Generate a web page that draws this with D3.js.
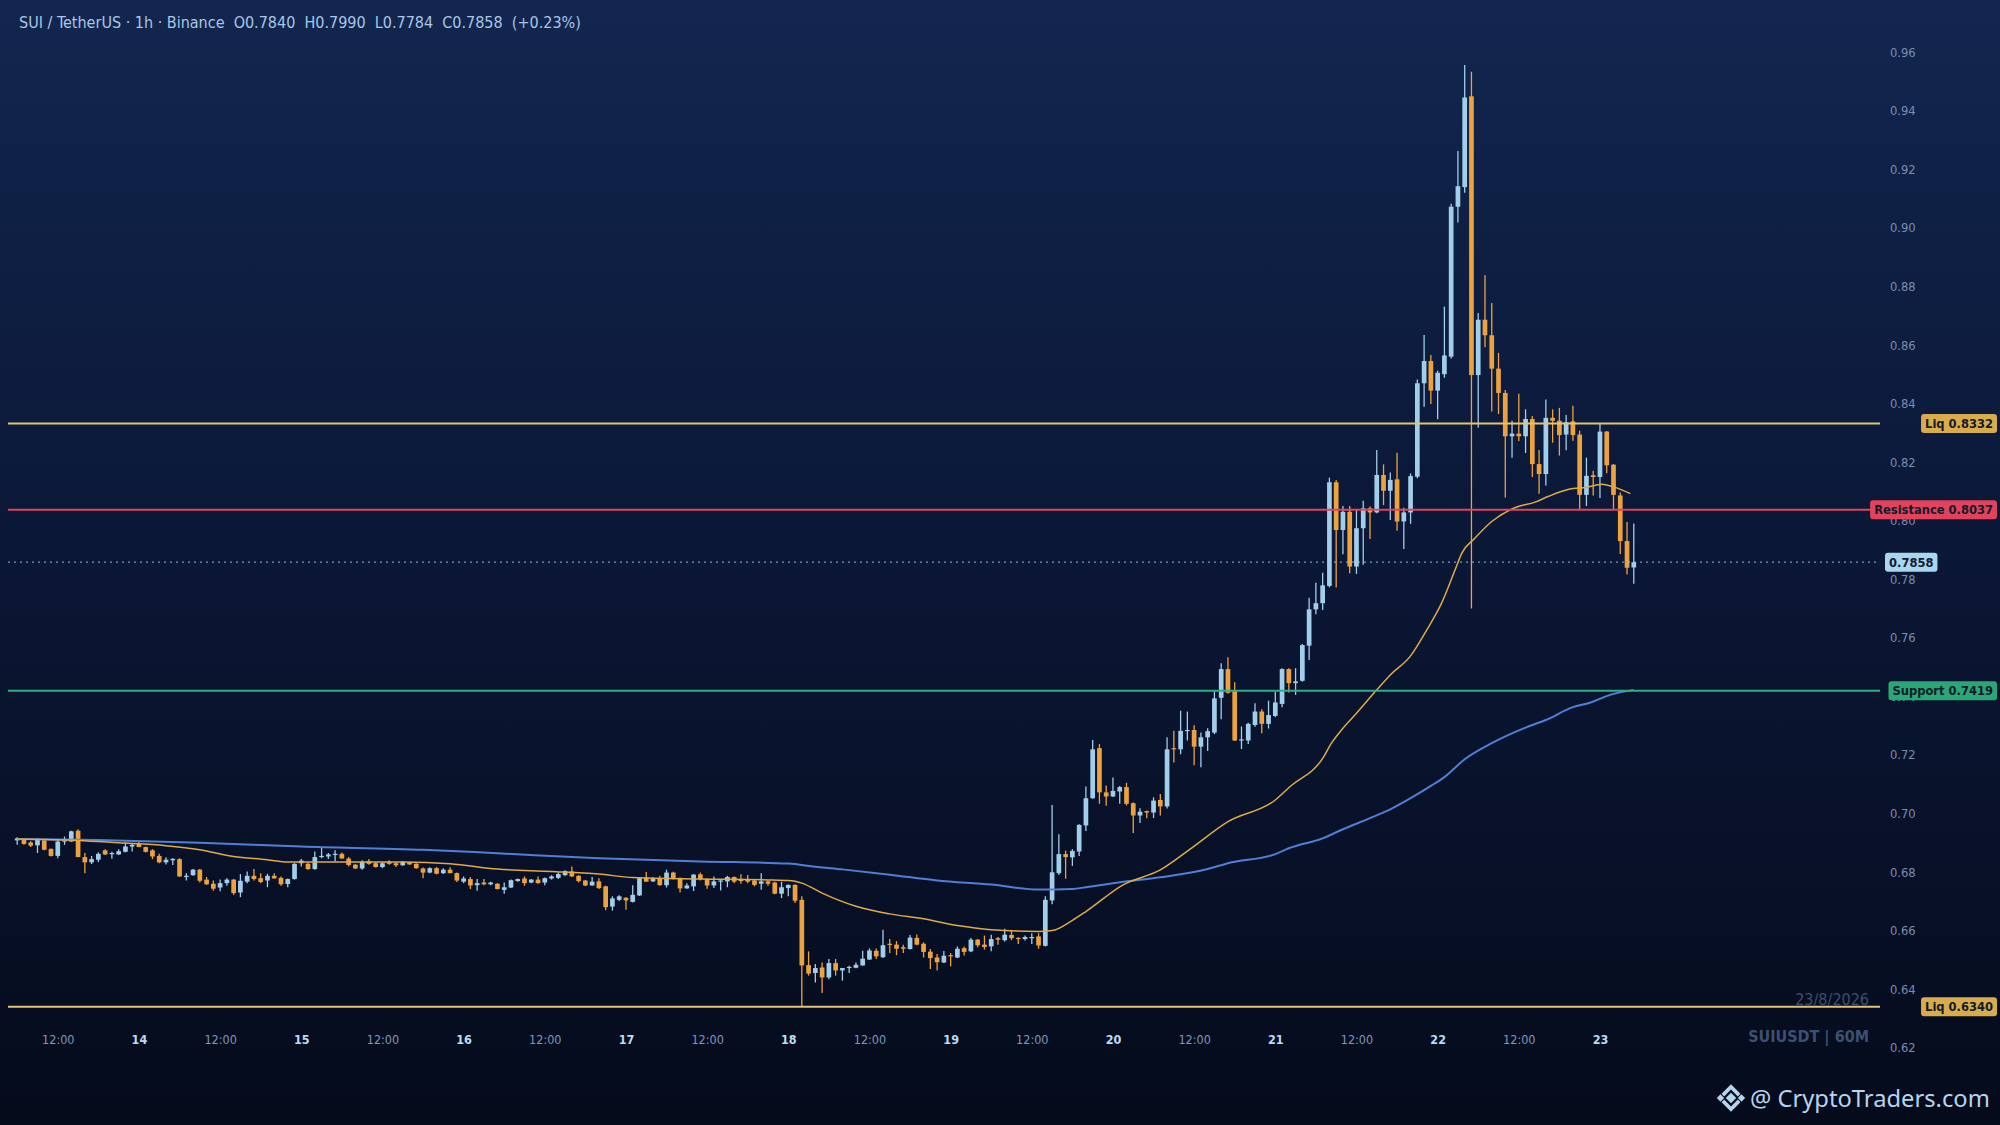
<!DOCTYPE html>
<html><head><meta charset="utf-8">
<script src="https://cdn.jsdelivr.net/npm/d3@7"></script>
<style>html,body{margin:0;padding:0;background:#0a1530;overflow:hidden}
text{font-family:"DejaVu Sans Condensed","DejaVu Sans",sans-serif;font-stretch:condensed}</style>
</head><body><svg id="c" width="2000" height="1125"></svg>
<script>
// ---------------- DATA ----------------
const symbolTitle = "SUI / TetherUS · 1h · Binance";
const startUTC = Date.UTC(2026, 7, 13, 6); // first candle: 13 Aug 2026 06:00
const opens = [
.6908,.6912,.6901,.6891,.6908,.6879,.6855,.6904,.6904,.6941,
.6851,.6833,.6842,.6874,.6862,.6860,.6869,.6887,.6896,.6885,
.6874,.6855,.6833,.6840,.6844,.6783,.6789,.6808,.6774,.6760,
.6747,.6762,.6774,.6730,.6767,.6787,.6779,.6771,.6787,.6780,
.6759,.6776,.6830,.6828,.6810,.6851,.6853,.6858,.6862,.6846,
.6825,.6812,.6837,.6830,.6817,.6835,.6830,.6823,.6833,.6828,
.6812,.6798,.6813,.6796,.6808,.6796,.6767,.6776,.6755,.6764,
.6758,.6760,.6739,.6747,.6769,.6778,.6764,.6774,.6764,.6778,
.6780,.6789,.6802,.6787,.6771,.6754,.6768,.6751,.6682,.6705,
.6712,.6698,.6720,.6780,.6768,.6778,.6755,.6798,.6779,.6744,
.6751,.6792,.6776,.6754,.6767,.6768,.6783,.6776,.6776,.6771,
.6760,.6768,.6764,.6726,.6745,.6756,.6705,.6482,.6455,.6474,
.6440,.6489,.6464,.6472,.6473,.6481,.6501,.6531,.6509,.6555,
.6552,.6543,.6537,.6575,.6555,.6528,.6508,.6491,.6516,.6508,
.6540,.6529,.6569,.6552,.6546,.6574,.6567,.6585,.6575,.6571,
.6576,.6580,.6548,.6703,.6796,.6861,.6850,.6870,.6959,.7052,
.7223,.7072,.7058,.7075,.7090,.7035,.6993,.7008,.7003,.7046,
.7024,.7223,.7219,.7282,.7285,.7228,.7260,.7276,.7395,.7493,
.7418,.7249,.7249,.7302,.7348,.7306,.7333,.7374,.7493,.7445,
.7453,.7573,.7697,.7718,.7777,.8131,.7968,.8030,.7843,.7974,
.8042,.8028,.8156,.8102,.8141,.7997,.8028,.8150,.8469,.8545,
.8444,.8500,.8560,.9072,.9139,.9449,.8497,.8686,.8633,.8519,
.8436,.8288,.8297,.8288,.8347,.8193,.8159,.8351,.8341,.8294,
.8339,.8294,.8088,.8155,.8149,.8304,.8191,.8086,.7930,.7840];
const highs = [
.6919,.6915,.6905,.6916,.6910,.6880,.6910,.6921,.6941,.6946,
.6865,.6855,.6867,.6878,.6869,.6878,.6901,.6899,.6905,.6887,
.6878,.6862,.6850,.6847,.6847,.6796,.6810,.6810,.6783,.6771,
.6774,.6779,.6776,.6793,.6802,.6810,.6796,.6794,.6796,.6785,
.6778,.6830,.6844,.6833,.6870,.6885,.6865,.6874,.6867,.6851,
.6827,.6840,.6844,.6833,.6833,.6840,.6833,.6838,.6835,.6830,
.6815,.6816,.6817,.6813,.6816,.6798,.6785,.6783,.6776,.6776,
.6767,.6762,.6764,.6774,.6778,.6785,.6776,.6785,.6781,.6789,
.6799,.6806,.6819,.6789,.6773,.6783,.6779,.6753,.6717,.6721,
.6714,.6755,.6781,.6800,.6783,.6787,.6808,.6801,.6781,.6762,
.6793,.6798,.6778,.6785,.6772,.6787,.6785,.6792,.6790,.6774,
.6796,.6771,.6767,.6767,.6757,.6758,.6717,.6529,.6486,.6491,
.6503,.6503,.6472,.6480,.6491,.6531,.6539,.6539,.6603,.6571,
.6564,.6552,.6585,.6587,.6560,.6537,.6520,.6530,.6523,.6546,
.6546,.6575,.6571,.6583,.6586,.6578,.6606,.6600,.6577,.6583,
.6591,.6591,.6717,.7029,.6929,.6873,.6878,.6963,.7092,.7251,
.7237,.7095,.7123,.7094,.7105,.7037,.7018,.7010,.7055,.7066,
.7260,.7282,.7351,.7348,.7301,.7276,.7291,.7419,.7513,.7533,
.7448,.7297,.7310,.7376,.7356,.7385,.7416,.7496,.7496,.7496,
.7579,.7737,.7788,.7822,.8147,.8139,.8050,.8050,.8040,.8068,
.8048,.8241,.8192,.8164,.8232,.8044,.8161,.8482,.8634,.8566,
.8512,.8731,.9082,.9262,.9556,.9533,.8709,.8838,.8743,.8573,
.8446,.8341,.8433,.8380,.8357,.8241,.8414,.8380,.8385,.8361,
.8392,.8307,.8215,.8170,.8330,.8306,.8193,.8096,.7995,.7990];
const lows = [
.6893,.6893,.6885,.6865,.6874,.6853,.6847,.6893,.6903,.6851,
.6796,.6827,.6834,.6858,.6845,.6858,.6867,.6870,.6885,.6867,
.6844,.6830,.6826,.6824,.6783,.6771,.6787,.6764,.6756,.6736,
.6734,.6753,.6722,.6714,.6762,.6771,.6762,.6748,.6778,.6753,
.6748,.6774,.6819,.6808,.6808,.6847,.6844,.6836,.6846,.6819,
.6810,.6808,.6825,.6815,.6813,.6825,.6817,.6821,.6824,.6811,
.6779,.6796,.6792,.6793,.6796,.6766,.6762,.6742,.6736,.6755,
.6755,.6740,.6726,.6745,.6767,.6753,.6762,.6760,.6755,.6774,
.6776,.6787,.6783,.6764,.6752,.6753,.6742,.6669,.6668,.6701,
.6671,.6696,.6718,.6767,.6766,.6753,.6747,.6774,.6730,.6743,
.6735,.6771,.6743,.6745,.6737,.6748,.6762,.6760,.6762,.6751,
.6739,.6753,.6724,.6711,.6717,.6694,.6340,.6446,.6423,.6387,
.6434,.6446,.6429,.6455,.6471,.6480,.6500,.6503,.6506,.6523,
.6516,.6523,.6535,.6550,.6508,.6469,.6464,.6489,.6478,.6506,
.6515,.6527,.6543,.6535,.6529,.6552,.6563,.6567,.6554,.6566,
.6554,.6538,.6546,.6690,.6790,.6777,.6821,.6855,.6940,.7050,
.7033,.7026,.7056,.7033,.7027,.6933,.6967,.6984,.6984,.6993,
.7017,.7174,.7202,.7249,.7165,.7158,.7213,.7271,.7322,.7410,
.7247,.7220,.7237,.7296,.7274,.7290,.7329,.7363,.7413,.7405,
.7450,.7524,.7680,.7695,.7772,.7772,.7885,.7820,.7818,.7849,
.7937,.8025,.8053,.8002,.7965,.7903,.7989,.8145,.8389,.8398,
.8346,.8488,.8554,.9018,.9120,.7700,.8317,.8592,.8373,.8364,
.8079,.8215,.8272,.8231,.8149,.8092,.8120,.8266,.8222,.8240,
.8273,.8038,.8050,.8086,.8077,.8162,.8038,.7886,.7816,.7784];
const closes = [
.6915,.6896,.6890,.6910,.6876,.6855,.6904,.6912,.6939,.6851,
.6833,.6844,.6862,.6860,.6865,.6871,.6887,.6893,.6885,.6869,
.6853,.6833,.6842,.6845,.6785,.6787,.6808,.6770,.6758,.6743,
.6762,.6774,.6728,.6770,.6787,.6776,.6766,.6787,.6778,.6758,
.6776,.6828,.6839,.6810,.6851,.6855,.6860,.6862,.6846,.6824,
.6812,.6835,.6828,.6817,.6830,.6828,.6823,.6835,.6826,.6813,
.6798,.6813,.6794,.6808,.6796,.6771,.6778,.6754,.6762,.6758,
.6764,.6742,.6748,.6772,.6776,.6762,.6774,.6762,.6779,.6785,
.6793,.6803,.6785,.6769,.6754,.6767,.6745,.6680,.6710,.6717,
.6703,.6722,.6779,.6767,.6778,.6755,.6798,.6776,.6744,.6754,
.6791,.6776,.6754,.6768,.6771,.6783,.6767,.6769,.6767,.6756,
.6768,.6760,.6726,.6748,.6756,.6702,.6481,.6453,.6472,.6440,
.6489,.6464,.6472,.6476,.6483,.6504,.6532,.6512,.6550,.6553,
.6538,.6538,.6576,.6552,.6527,.6506,.6492,.6514,.6512,.6538,
.6527,.6569,.6550,.6544,.6571,.6569,.6586,.6574,.6571,.6578,
.6578,.6549,.6705,.6799,.6861,.6851,.6872,.6961,.7052,.7219,
.7072,.7058,.7077,.7090,.7033,.6993,.7006,.7003,.7044,.7024,
.7219,.7219,.7282,.7285,.7228,.7260,.7281,.7393,.7493,.7412,
.7249,.7253,.7306,.7348,.7306,.7336,.7379,.7493,.7445,.7451,
.7575,.7697,.7718,.7779,.8131,.7968,.8030,.7843,.7974,.8042,
.8028,.8156,.8102,.8139,.7997,.8028,.8152,.8469,.8545,.8444,
.8505,.8564,.9072,.9142,.9445,.8497,.8686,.8633,.8519,.8436,
.8288,.8297,.8288,.8347,.8193,.8159,.8351,.8341,.8292,.8336,
.8292,.8088,.8153,.8149,.8304,.8189,.8088,.7930,.7839,.7858];

// moving averages: [hour offset from first candle, value]
const maFast = [[0,.6913],[9,.6908],[15,.6900],[22,.6890],[27,.6876],[32,.6853],[37,.6842],[40,.6834],[47,.6834],[57,.6834],
 [64,.6828],[71,.6810],[79,.6802],[86,.6793],[91,.6781],[101,.6776],[111,.6773],[114.5,.6770],[116,.6762],[119,.6728],
 [124,.6683],[129,.6657],[134,.6640],[139,.6617],[144,.6603],[151,.6597],[153,.6600],[156,.6635],[158,.6665],[163.5,.6756],
 [169,.6807],[173.4,.6878],[179,.6972],[186,.7046],[188.2,.7092],[193,.7188],[194.3,.7240],[196,.7291],[198,.7342],[201,.7422],
 [203,.7473],[206,.7538],[208.4,.7627],[210.6,.7719],[212.6,.7833],[213.6,.7890],[215.5,.7940],[218,.7997],[221.5,.8045],[224.4,.8063],
 [226.4,.8083],[229.4,.8107],[232,.8114],[234.3,.8124],[235.8,.8117],[238.5,.8092]];
const maSlow = [[0,.6913],[12,.6909],[27,.6900],[42,.6887],[60,.6876],[71,.6864],[86,.6847],[101,.6836],[114,.6829],[118,.6818],
 [122,.6809],[129,.6791],[136,.6771],[144,.6757],[151,.6740],[156,.6742],[158,.6748],[163,.6765],[169,.6782],[176,.6810],
 [179,.6830],[186,.6861],[188,.6881],[193,.6915],[196,.6946],[200,.6984],[203,.7014],[206,.7052],[209,.7094],[211,.7124],
 [214,.7185],[218,.7240],[223,.7293],[226,.7319],[230,.7363],[232.5,.7378],[235.5,.7405],[239,.7422]];

const priceTicks = [0.62,0.64,0.66,0.68,0.70,0.72,0.74,0.76,0.78,0.80,0.82,0.84,0.86,0.88,0.90,0.92,0.94,0.96];
const levelNames = ["Liq","Resistance","Support","Liq"];
const levelValues = [0.8332, 0.8037, 0.7419, 0.6340];
const lastPrice = 0.7858;
const changeText = "(+0.23%)";
const dateStamp = "23/8/2026";
const tickerStamp = "SUIUSDT | 60M";
const brandText = "@ CryptoTraders.com";

// ---------------- DRAW ----------------
const HOUR = 3600e3;
const times = opens.map((_, i) => new Date(startUTC + i * HOUR));
const svg = d3.select("#c");
const W = 2000, H = 1125;
const x = d3.scaleUtc().domain([new Date(startUTC - 1.36 * HOUR), new Date(startUTC + 275.4 * HOUR)]).range([8, 1880]);
const y = d3.scaleLinear().domain([0.62, 0.96]).range([1047.7, 52.1]);

const defs = svg.append("defs");
const bg = defs.append("linearGradient").attr("id", "bg").attr("x1", 0).attr("y1", 0).attr("x2", 0).attr("y2", 1);
bg.append("stop").attr("offset", "0%").attr("stop-color", "#12264f");
bg.append("stop").attr("offset", "45%").attr("stop-color", "#0b1838");
bg.append("stop").attr("offset", "100%").attr("stop-color", "#050b1b");
svg.append("rect").attr("width", W).attr("height", H).attr("fill", "url(#bg)");

// header
const n = opens.length - 1;
svg.append("text").attr("x", 19).attr("y", 28).attr("fill", "#a9c6e6").attr("font-size", 16)
  .attr("xml:space", "preserve").style("white-space", "pre")
  .text(`${symbolTitle}  O${opens[n].toFixed(4)}  H${highs[n].toFixed(4)}  L${lows[n].toFixed(4)}  C${closes[n].toFixed(4)}  ${changeText}`);

// price axis
const yAxis = d3.axisRight(y).tickValues(priceTicks).tickFormat(d3.format(".2f")).tickSize(0).tickPadding(0);
const gy = svg.append("g").attr("transform", "translate(1890,0)").call(yAxis);
gy.select(".domain").remove();
gy.selectAll("text").attr("fill", "#7a8db0").attr("font-size", 12.8).style("font-family", null);

// time axis
const tickTimes = d3.utcHour.every(12).range(new Date(Date.UTC(2026, 7, 13, 12)), new Date(times[n].getTime() + 1));
const xAxis = d3.axisBottom(x).tickValues(tickTimes).tickSize(0).tickPadding(0)
  .tickFormat(d => d.getUTCHours() === 0 ? d3.utcFormat("%-d")(d) : d3.utcFormat("%H:%M")(d));
const gx = svg.append("g").attr("transform", "translate(0,1040)").call(xAxis);
gx.select(".domain").remove();
gx.selectAll("text").attr("dy", "0.35em").attr("font-size", 12.5).style("font-family", null)
  .attr("fill", d => d.getUTCHours() === 0 ? "#b9dcf5" : "#7f97bb")
  .attr("font-weight", d => d.getUTCHours() === 0 ? "bold" : "normal");

// candles
const upCol = "#a0ceeb", dnCol = "#eea23e";
const bw = 4.7;
const cg = svg.append("g");
const idx = d3.range(opens.length);
cg.selectAll("line.wick").data(idx).join("line")
  .attr("x1", i => x(times[i])).attr("x2", i => x(times[i]))
  .attr("y1", i => y(highs[i])).attr("y2", i => y(lows[i]))
  .attr("stroke", i => closes[i] >= opens[i] ? upCol : dnCol).attr("stroke-width", 1.3);
cg.selectAll("rect.body").data(idx).join("rect")
  .attr("x", i => x(times[i]) - bw / 2).attr("width", bw)
  .attr("y", i => y(Math.max(opens[i], closes[i])))
  .attr("height", i => Math.max(1.2, Math.abs(y(opens[i]) - y(closes[i]))))
  .attr("fill", i => closes[i] >= opens[i] ? upCol : dnCol);

// moving averages
const maLine = d3.line().x(d => x(new Date(startUTC + d[0] * HOUR))).y(d => y(d[1])).curve(d3.curveMonotoneX);
svg.append("path").attr("d", maLine(maSlow)).attr("fill", "none").attr("stroke", "#4f7fd6").attr("stroke-width", 2);
svg.append("path").attr("d", maLine(maFast)).attr("fill", "none").attr("stroke", "#e0aa45").attr("stroke-width", 1.5);

// level lines
const lineCols = ["#e3c374", "#e0445e", "#35ad84", "#e3c374"];
const badgeCols = ["#d9ac4b", "#e0435b", "#2aa777", "#d9ac4b"];
levelValues.forEach((v, k) => {
  svg.append("line").attr("x1", 8).attr("x2", 1880).attr("y1", y(v)).attr("y2", y(v))
    .attr("stroke", lineCols[k]).attr("stroke-width", 2);
});
svg.append("line").attr("x1", 8).attr("x2", 1880).attr("y1", y(lastPrice)).attr("y2", y(lastPrice))
  .attr("stroke", "#9cc9e4").attr("stroke-width", 1.2).attr("stroke-dasharray", "2,4").attr("opacity", 0.75);

// badges
function badge(label, v, col, anchorRight, xPos) {
  const g = svg.append("g");
  const t = g.append("text").attr("font-size", 12.8).attr("font-weight", "bold").attr("fill", "#141a2a").text(label);
  const w = t.node().getComputedTextLength() + 8;
  const x0 = anchorRight ? xPos - w : xPos;
  g.insert("rect", "text").attr("x", x0).attr("y", y(v) - 9.5).attr("width", w).attr("height", 19)
    .attr("rx", 3).attr("fill", col);
  t.attr("x", x0 + 4).attr("y", y(v)).attr("dy", "0.36em");
}
levelValues.forEach((v, k) => badge(`${levelNames[k]} ${v.toFixed(4)}`, v, badgeCols[k], true, 1997));
badge(lastPrice.toFixed(4), lastPrice, "#a9d6ef", false, 1885);

// watermarks
svg.append("text").attr("x", 1869).attr("y", 1005).attr("text-anchor", "end").attr("font-size", 16)
  .attr("fill", "#3a4e70").text(dateStamp);
svg.append("text").attr("x", 1869).attr("y", 1042).attr("text-anchor", "end").attr("font-size", 16)
  .attr("font-weight", "bold").attr("fill", "#3b5073").text(tickerStamp);

// brand
const brand = svg.append("g").attr("fill", "#b5d5ee");
const bt = brand.append("text").attr("x", 1750).attr("y", 1107).attr("font-size", 26)
  .style("font-family", "'Noto Sans', 'Open Sans', sans-serif").style("font-stretch", "normal").text(brandText);
const bwid = bt.node().getComputedTextLength();
bt.attr("font-size", 26 * 240 / bwid);
const lg = brand.append("g").attr("transform", "translate(1731,1098) scale(1.05)");
lg.append("path").attr("d", "M0,-5L5,0L0,5L-5,0Z");
lg.append("path").attr("d", "M-10,-3.5L-6.5,0L-10,3.5L-13.5,0Z");
lg.append("path").attr("d", "M10,-3.5L13.5,0L10,3.5L6.5,0Z");
lg.append("path").attr("d", "M-9,-4L0,-13L9,-4L6.5,-1.5L0,-8L-6.5,-1.5Z");
lg.append("path").attr("d", "M-9,4L0,13L9,4L6.5,1.5L0,8L-6.5,1.5Z");
</script></body></html>
